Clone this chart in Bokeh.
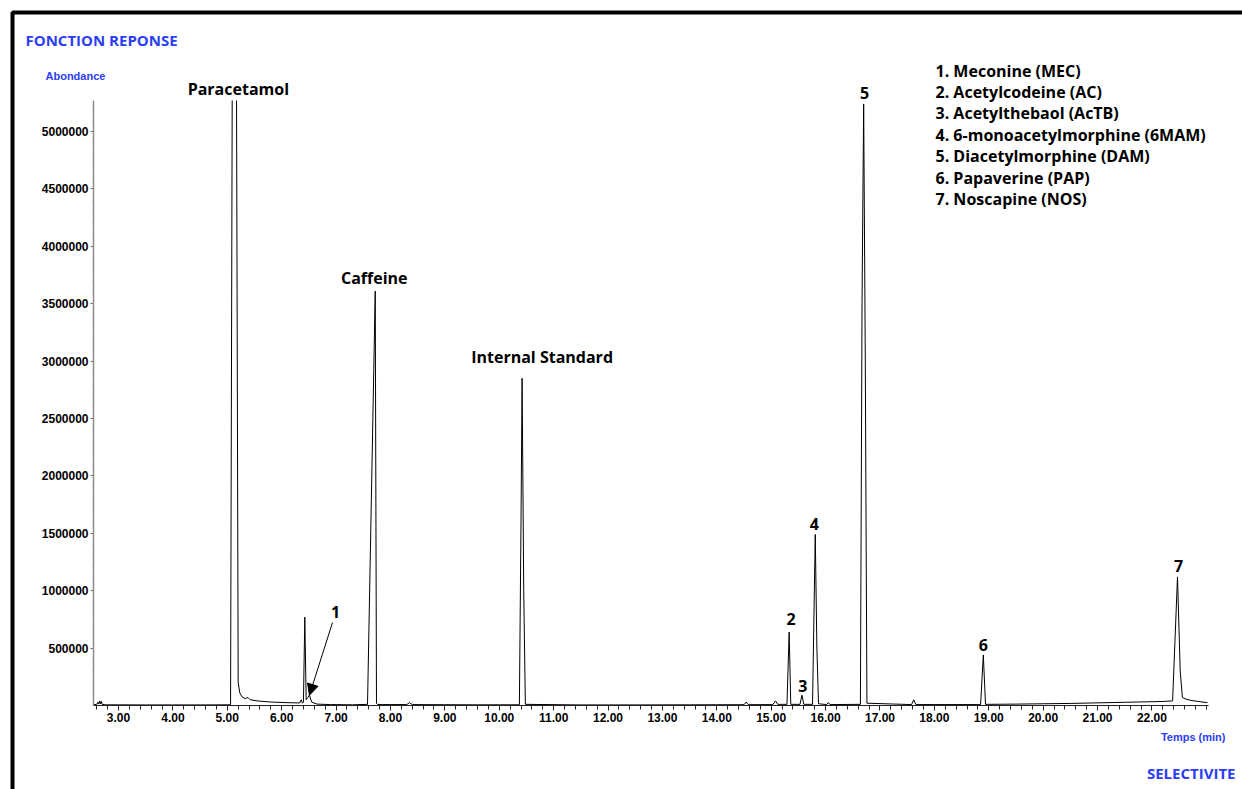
from bokeh.plotting import figure
from bokeh.models import (Range1d, FixedTicker, NumeralTickFormatter, Label, LabelSet,
                          ColumnDataSource, Arrow, NormalHead, BoxAnnotation)
from bokeh.core.properties import value
from bokeh.embed import file_html
from bokeh.resources import INLINE

NAN = float("nan")

# ---------------- data ----------------
# chromatogram trace: retention time (min) and abundance
# (the Paracetamol peak is off scale: its top is not recorded -> NaN gap)
times = [2.54, 2.60, 2.62, 2.64, 2.655, 2.67, 2.685, 2.70, 2.75, 3.5, 4.5,
         5.06, 5.09, NAN, 5.17, 5.20, 5.23, 5.27, 5.33, 5.38, 5.40, 5.42, 5.55, 5.8, 6.1,
         6.33, 6.36, 6.38, 6.40, 6.425, 6.45, 6.48, 6.51, 6.55, 6.65, 6.9, 7.3,
         7.578, 7.72, 7.743, 7.76, 7.85, 8.3, 8.35, 8.40, 9.5,
         10.37, 10.40, 10.42, 10.45, 10.48, 11.5, 12.5, 13.5,
         14.50, 14.54, 14.58, 15.03, 15.08, 15.12,
         15.29, 15.33, 15.36, 15.53, 15.565, 15.60,
         15.76, 15.79, 15.81, 15.84, 15.87, 16.02, 16.05, 16.08,
         16.64, 16.67, 16.70, 16.73, 16.76, 17.58, 17.62, 17.66,
         18.85, 18.90, 18.94, 19.5, 20.5, 21.5, 22.2,
         22.38, 22.47, 22.52, 22.56, 22.63, 22.71, 22.85, 23.02]
abundance = [8000, 10000, 30000, 12000, 40000, 15000, 35000, 10000, 6000, 5000, 5000,
             6000, 5270000, NAN, 5270000, 200000, 110000, 75000, 60000, 70000, 60000, 50000, 40000, 30000, 25000,
             22000, 50000, 20000, 30000, 770000, 50000, 70000, 90000, 30000, 12000, 8000, 6000,
             10000, 3610000, 20000, 10000, 8000, 8000, 25000, 8000, 6000,
             6000, 1600000, 2850000, 1000000, 10000, 5000, 5000, 6000,
             7000, 30000, 7000, 8000, 40000, 10000,
             10000, 640000, 10000, 10000, 90000, 10000,
             10000, 900000, 1490000, 500000, 15000, 8000, 25000, 8000,
             10000, 3500000, 5240000, 3000000, 20000, 8000, 50000, 8000,
             8000, 440000, 10000, 12000, 18000, 28000, 35000,
             40000, 1120000, 300000, 70000, 55000, 45000, 35000, 25000]

# labelled peaks
peak_names = ["Paracetamol", "Caffeine", "Internal Standard", "2", "3", "4", "5", "6", "7"]
peak_times = [5.13, 7.72, 10.42, 15.33, 15.565, 15.81, 16.70, 18.90, 22.47]
peak_heights = [5270000, 3610000, 2850000, 640000, 90000, 1490000, 5240000, 440000, 1120000]

# peak 1 (Meconine) marked by an arrow
peak1_name = "1"
peak1_time = 6.51
peak1_height = 90000

legend_items = ["1. Meconine (MEC)", "2. Acetylcodeine (AC)", "3. Acetylthebaol (AcTB)",
                "4. 6-monoacetylmorphine (6MAM)", "5. Diacetylmorphine (DAM)",
                "6. Papaverine (PAP)", "7. Noscapine (NOS)"]

x_ticks = [3, 4, 5, 6, 7, 8, 9, 10, 11, 12, 13, 14, 15, 16, 17, 18, 19, 20, 21, 22]
y_ticks = [500000, 1000000, 1500000, 2000000, 2500000, 3000000, 3500000, 4000000, 4500000, 5000000]

# ---------------- layout ----------------
W, H = 1242, 789
PX_L, PX_R, PX_T, PX_B = 93, 1208, 100, 705     # where the axes sit on the page
X0, X1 = 2.54, 23.04                             # time span of the axes
Y0, Y1 = 0, 5270000                              # abundance span of the axes

def sx(px):
    return X0 + (px - PX_L) * (X1 - X0) / (PX_R - PX_L)

def sy(py):
    return Y0 + (PX_B - py) * (Y1 - Y0) / (PX_B - PX_T)

BLUE = "#2b3df6"

# the frame covers the whole page; axes are pinned at fixed locations
p = figure(width=W, height=H, x_range=Range1d(sx(0), sx(W)), y_range=Range1d(sy(H), sy(0)),
           output_backend="svg", toolbar_location=None, min_border=0,
           min_border_left=0, min_border_right=0, min_border_top=0, min_border_bottom=0)
p.outline_line_color = None
p.xgrid.visible = False
p.ygrid.visible = False
p.background_fill_color = "white"
p.border_fill_color = "white"

# axes
minor_x = [round(2.6 + 0.2 * i, 2) for i in range(0, 103)]
p.xaxis.fixed_location = Y0
p.xaxis.bounds = (X0, X1)
p.xaxis.ticker = FixedTicker(ticks=x_ticks, minor_ticks=[v for v in minor_x if X0 <= v <= X1])
p.xaxis.formatter = NumeralTickFormatter(format="0.00")
p.xaxis.axis_line_color = "#222222"
p.xaxis.major_tick_line_color = "#222222"
p.xaxis.minor_tick_line_color = "#222222"
p.xaxis.major_tick_in = 0
p.xaxis.major_tick_out = 5
p.xaxis.minor_tick_in = 0
p.xaxis.minor_tick_out = 4
p.xaxis.major_label_standoff = 2
p.xaxis.major_label_text_font = "Liberation Sans"
p.xaxis.major_label_text_font_style = "bold"
p.xaxis.major_label_text_font_size = "12px"
p.xaxis.major_label_text_color = "black"

p.yaxis.fixed_location = X0
p.yaxis.bounds = (Y0, Y1)
p.yaxis.ticker = FixedTicker(ticks=y_ticks, minor_ticks=[100000 * i for i in range(1, 53)])
p.yaxis.formatter = NumeralTickFormatter(format="0")
p.yaxis.axis_line_color = "#8c8c8c"
p.yaxis.axis_line_width = 1.5
p.yaxis.major_tick_line_color = "#666666"
p.yaxis.minor_tick_line_color = "#999999"
p.yaxis.major_tick_in = 0
p.yaxis.major_tick_out = 3
p.yaxis.minor_tick_in = 0
p.yaxis.minor_tick_out = 1
p.yaxis.major_label_standoff = 2
p.yaxis.major_label_text_font = "Liberation Sans"
p.yaxis.major_label_text_font_style = "bold"
p.yaxis.major_label_text_font_size = "12px"
p.yaxis.major_label_text_color = "black"

# trace
p.line(times, abundance, line_color="black", line_width=1)

# peak labels
x_off = [4, -1, 20, 2, 1, -1, 1, 0, 1]
y_off = [12, 13, 21, 13, 9, 10, 11, 10, 11]
src = ColumnDataSource(dict(x=peak_times, y=[min(h, Y1) for h in peak_heights],
                            text=peak_names, xo=x_off, yo=y_off))
p.add_layout(LabelSet(x="x", y="y", text="text", source=src, x_offset="xo", y_offset="yo",
                      text_align="center", text_baseline="middle",
                      text_font=value("Open Sans"), text_font_style="bold", text_font_size="16px",
                      text_color="black"))

# peak 1 with arrow
p.add_layout(Arrow(x_start=sx(332), y_start=sy(622), x_end=peak1_time, y_end=peak1_height,
                   line_color="black", line_width=1,
                   end=NormalHead(size=11, fill_color="black", line_color="black")))
p.add_layout(Label(x=sx(335), y=sy(611), text=peak1_name, text_align="center",
                   text_baseline="middle", text_font="Open Sans", text_font_style="bold",
                   text_font_size="16px", text_color="black"))

# legend text
for i, t in enumerate(legend_items):
    p.add_layout(Label(x=sx(935), y=sy(70 + 21.4 * i), text=t, text_align="left",
                       text_baseline="middle", text_font="Open Sans", text_font_style="bold",
                       text_font_size="16px", text_color="black"))

# blue captions
p.add_layout(Label(x=sx(25), y=sy(39), text="FONCTION REPONSE", text_align="left",
                   text_baseline="middle", text_font="Open Sans", text_font_style="bold",
                   text_font_size="15px", text_color=BLUE))
p.add_layout(Label(x=sx(45), y=sy(75), text="Abondance", text_align="left",
                   text_baseline="middle", text_font="Liberation Sans", text_font_style="bold",
                   text_font_size="11px", text_color=BLUE))
p.add_layout(Label(x=sx(1225), y=sy(736), text="Temps (min)", text_align="right",
                   text_baseline="middle", text_font="Liberation Sans", text_font_style="bold",
                   text_font_size="11px", text_color=BLUE))
p.add_layout(Label(x=sx(1235), y=sy(772), text="SELECTIVITE", text_align="right",
                   text_baseline="middle", text_font="Open Sans", text_font_style="bold",
                   text_font_size="15px", text_color=BLUE))

# outer frame (left and top edges visible)
p.add_layout(BoxAnnotation(left=sx(12), right=sx(1400), top=sy(12), bottom=sy(900),
                           fill_alpha=0, fill_color=None, line_color="black",
                           line_alpha=1, line_width=4))

open("out.html", "w").write(file_html(p, INLINE))
